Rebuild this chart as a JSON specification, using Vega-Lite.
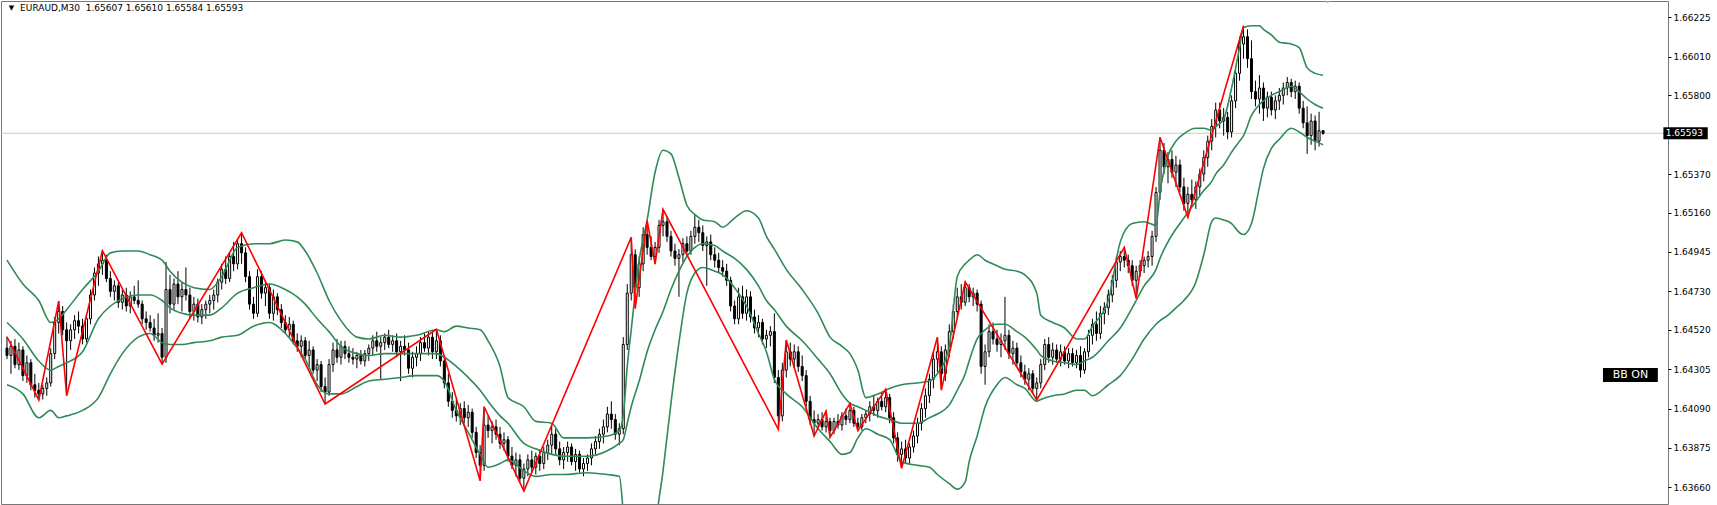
{
"$schema":"https://vega.github.io/schema/vega-lite/v6.json",
"width":1667,"height":503,
"autosize":{"type":"none"},
"padding":{"left":1,"top":1,"right":49,"bottom":1},
"background":"#ffffff",
"config":{"view":{"stroke":"#777777","strokeWidth":1},"font":"DejaVu Sans"},
"datasets":{
"bars":[
{"i":0,"o":1.6442,"h":1.64482,"l":1.6436,"c":1.6438},
{"i":1,"o":1.6438,"h":1.6446,"l":1.6428,"c":1.6443},
{"i":2,"o":1.6443,"h":1.6447,"l":1.6431,"c":1.6433},
{"i":3,"o":1.6433,"h":1.6445,"l":1.6430,"c":1.6441},
{"i":4,"o":1.6441,"h":1.6443,"l":1.6424,"c":1.6427},
{"i":5,"o":1.6427,"h":1.6438,"l":1.6423,"c":1.6434},
{"i":6,"o":1.6434,"h":1.6436,"l":1.6419,"c":1.6422},
{"i":7,"o":1.6422,"h":1.6428,"l":1.6415,"c":1.6419},
{"i":8,"o":1.6419,"h":1.6423,"l":1.64137,"c":1.6417},
{"i":9,"o":1.6417,"h":1.6422,"l":1.6414,"c":1.6420},
{"i":10,"o":1.6420,"h":1.6426,"l":1.6416,"c":1.6423},
{"i":11,"o":1.6423,"h":1.6442,"l":1.6421,"c":1.6439},
{"i":12,"o":1.6439,"h":1.6459,"l":1.6436,"c":1.6456},
{"i":13,"o":1.6456,"h":1.64677,"l":1.6450,"c":1.6462},
{"i":14,"o":1.6462,"h":1.6465,"l":1.6449,"c":1.6452},
{"i":15,"o":1.6452,"h":1.6456,"l":1.6416,"c":1.6446},
{"i":16,"o":1.6446,"h":1.6455,"l":1.6441,"c":1.6452},
{"i":17,"o":1.6452,"h":1.6460,"l":1.6447,"c":1.6457},
{"i":18,"o":1.6457,"h":1.6462,"l":1.6450,"c":1.6454},
{"i":19,"o":1.6454,"h":1.6458,"l":1.6444,"c":1.6447},
{"i":20,"o":1.6447,"h":1.6460,"l":1.6445,"c":1.6458},
{"i":21,"o":1.6458,"h":1.6474,"l":1.6455,"c":1.6471},
{"i":22,"o":1.6471,"h":1.6486,"l":1.6468,"c":1.6483},
{"i":23,"o":1.6483,"h":1.6492,"l":1.6476,"c":1.6488},
{"i":24,"o":1.6488,"h":1.64952,"l":1.6482,"c":1.6490},
{"i":25,"o":1.6490,"h":1.6493,"l":1.6478,"c":1.6480},
{"i":26,"o":1.6480,"h":1.6484,"l":1.6470,"c":1.6473},
{"i":27,"o":1.6473,"h":1.6479,"l":1.6468,"c":1.6476},
{"i":28,"o":1.6476,"h":1.6478,"l":1.6464,"c":1.6467},
{"i":29,"o":1.6467,"h":1.6474,"l":1.6463,"c":1.6471},
{"i":30,"o":1.6471,"h":1.6475,"l":1.6462,"c":1.6465},
{"i":31,"o":1.6465,"h":1.6473,"l":1.6461,"c":1.6470},
{"i":32,"o":1.6470,"h":1.6476,"l":1.6466,"c":1.6468},
{"i":33,"o":1.6468,"h":1.6479,"l":1.6464,"c":1.6466},
{"i":34,"o":1.6466,"h":1.6468,"l":1.6455,"c":1.6458},
{"i":35,"o":1.6458,"h":1.6462,"l":1.6452,"c":1.6456},
{"i":36,"o":1.6456,"h":1.6460,"l":1.6451,"c":1.6453},
{"i":37,"o":1.6453,"h":1.6458,"l":1.6446,"c":1.6449},
{"i":38,"o":1.6449,"h":1.6461,"l":1.6445,"c":1.6450},
{"i":39,"o":1.6450,"h":1.6453,"l":1.64333,"c":1.6437},
{"i":40,"o":1.6437,"h":1.6489,"l":1.6434,"c":1.6474},
{"i":41,"o":1.6474,"h":1.6482,"l":1.6461,"c":1.6466},
{"i":42,"o":1.6466,"h":1.6480,"l":1.6463,"c":1.6477},
{"i":43,"o":1.6477,"h":1.6484,"l":1.6466,"c":1.6470},
{"i":44,"o":1.6470,"h":1.6478,"l":1.6462,"c":1.6474},
{"i":45,"o":1.6474,"h":1.6486,"l":1.6468,"c":1.6471},
{"i":46,"o":1.6471,"h":1.6475,"l":1.6458,"c":1.6462},
{"i":47,"o":1.6462,"h":1.6470,"l":1.6457,"c":1.6466},
{"i":48,"o":1.6466,"h":1.6469,"l":1.6456,"c":1.6459},
{"i":49,"o":1.6459,"h":1.6466,"l":1.6455,"c":1.6463},
{"i":50,"o":1.6463,"h":1.6468,"l":1.6458,"c":1.6466},
{"i":51,"o":1.6466,"h":1.6471,"l":1.6461,"c":1.6468},
{"i":52,"o":1.6468,"h":1.6474,"l":1.6463,"c":1.6471},
{"i":53,"o":1.6471,"h":1.6480,"l":1.6467,"c":1.6478},
{"i":54,"o":1.6478,"h":1.6488,"l":1.6474,"c":1.6485},
{"i":55,"o":1.6485,"h":1.6492,"l":1.6477,"c":1.6480},
{"i":56,"o":1.6480,"h":1.6494,"l":1.6478,"c":1.6492},
{"i":57,"o":1.6492,"h":1.6500,"l":1.6484,"c":1.6488},
{"i":58,"o":1.6488,"h":1.6502,"l":1.6485,"c":1.6499},
{"i":59,"o":1.6499,"h":1.65050,"l":1.6488,"c":1.6494},
{"i":60,"o":1.6494,"h":1.6497,"l":1.6478,"c":1.6481},
{"i":61,"o":1.6481,"h":1.6484,"l":1.6463,"c":1.6466},
{"i":62,"o":1.6466,"h":1.6470,"l":1.6458,"c":1.6461},
{"i":63,"o":1.6461,"h":1.6485,"l":1.6459,"c":1.6481},
{"i":64,"o":1.6481,"h":1.6484,"l":1.6469,"c":1.6472},
{"i":65,"o":1.6472,"h":1.6478,"l":1.6465,"c":1.6475},
{"i":66,"o":1.6475,"h":1.6477,"l":1.6458,"c":1.6461},
{"i":67,"o":1.6461,"h":1.6474,"l":1.6457,"c":1.6470},
{"i":68,"o":1.6470,"h":1.6472,"l":1.6460,"c":1.6463},
{"i":69,"o":1.6463,"h":1.6466,"l":1.6453,"c":1.6456},
{"i":70,"o":1.6456,"h":1.6460,"l":1.6450,"c":1.6452},
{"i":71,"o":1.6452,"h":1.6459,"l":1.6448,"c":1.6455},
{"i":72,"o":1.6455,"h":1.6457,"l":1.6444,"c":1.6446},
{"i":73,"o":1.6446,"h":1.6450,"l":1.6440,"c":1.6443},
{"i":74,"o":1.6443,"h":1.6449,"l":1.6437,"c":1.6446},
{"i":75,"o":1.6446,"h":1.6448,"l":1.6436,"c":1.6438},
{"i":76,"o":1.6438,"h":1.6446,"l":1.6432,"c":1.6441},
{"i":77,"o":1.6441,"h":1.6443,"l":1.6428,"c":1.6430},
{"i":78,"o":1.6430,"h":1.6436,"l":1.6424,"c":1.6433},
{"i":79,"o":1.6433,"h":1.6435,"l":1.6418,"c":1.6421},
{"i":80,"o":1.6421,"h":1.6426,"l":1.64115,"c":1.6418},
{"i":81,"o":1.6418,"h":1.6436,"l":1.6416,"c":1.6433},
{"i":82,"o":1.6433,"h":1.6445,"l":1.6429,"c":1.6441},
{"i":83,"o":1.6441,"h":1.6447,"l":1.6434,"c":1.6437},
{"i":84,"o":1.6437,"h":1.6446,"l":1.6433,"c":1.6443},
{"i":85,"o":1.6443,"h":1.6446,"l":1.6436,"c":1.6439},
{"i":86,"o":1.6439,"h":1.6443,"l":1.6434,"c":1.6437},
{"i":87,"o":1.6437,"h":1.6442,"l":1.6433,"c":1.6436},
{"i":88,"o":1.6436,"h":1.6440,"l":1.6431,"c":1.6438},
{"i":89,"o":1.6438,"h":1.6441,"l":1.6433,"c":1.6435},
{"i":90,"o":1.6435,"h":1.6441,"l":1.6432,"c":1.6439},
{"i":91,"o":1.6439,"h":1.6444,"l":1.6435,"c":1.6442},
{"i":92,"o":1.6442,"h":1.6449,"l":1.6438,"c":1.6446},
{"i":93,"o":1.6446,"h":1.6451,"l":1.6440,"c":1.6443},
{"i":94,"o":1.6443,"h":1.6448,"l":1.6425,"c":1.6445},
{"i":95,"o":1.6445,"h":1.6450,"l":1.6441,"c":1.6448},
{"i":96,"o":1.6448,"h":1.6452,"l":1.6442,"c":1.6444},
{"i":97,"o":1.6444,"h":1.6449,"l":1.6440,"c":1.6446},
{"i":98,"o":1.6446,"h":1.6450,"l":1.6437,"c":1.6440},
{"i":99,"o":1.6440,"h":1.6446,"l":1.6424,"c":1.6443},
{"i":100,"o":1.6443,"h":1.6449,"l":1.6438,"c":1.6441},
{"i":101,"o":1.6441,"h":1.6445,"l":1.6428,"c":1.6431},
{"i":102,"o":1.6431,"h":1.6440,"l":1.6426,"c":1.6437},
{"i":103,"o":1.6437,"h":1.6443,"l":1.6432,"c":1.6439},
{"i":104,"o":1.6439,"h":1.6448,"l":1.6435,"c":1.6445},
{"i":105,"o":1.6445,"h":1.6450,"l":1.6440,"c":1.6442},
{"i":106,"o":1.6442,"h":1.6451,"l":1.6438,"c":1.6448},
{"i":107,"o":1.6448,"h":1.6451,"l":1.6436,"c":1.6440},
{"i":108,"o":1.6440,"h":1.64523,"l":1.6436,"c":1.6446},
{"i":109,"o":1.6446,"h":1.6449,"l":1.6432,"c":1.6435},
{"i":110,"o":1.6435,"h":1.6438,"l":1.6420,"c":1.6423},
{"i":111,"o":1.6423,"h":1.6428,"l":1.6410,"c":1.6413},
{"i":112,"o":1.6413,"h":1.6418,"l":1.6404,"c":1.6408},
{"i":113,"o":1.6408,"h":1.6414,"l":1.6402,"c":1.6405},
{"i":114,"o":1.6405,"h":1.6412,"l":1.6400,"c":1.6409},
{"i":115,"o":1.6409,"h":1.6413,"l":1.6401,"c":1.6404},
{"i":116,"o":1.6404,"h":1.6411,"l":1.6399,"c":1.6407},
{"i":117,"o":1.6407,"h":1.6409,"l":1.6393,"c":1.6396},
{"i":118,"o":1.6396,"h":1.6399,"l":1.6382,"c":1.6385},
{"i":119,"o":1.6385,"h":1.6389,"l":1.63696,"c":1.6378},
{"i":120,"o":1.6378,"h":1.64100,"l":1.6375,"c":1.6400},
{"i":121,"o":1.6400,"h":1.6405,"l":1.6393,"c":1.6397},
{"i":122,"o":1.6397,"h":1.6402,"l":1.6390,"c":1.6399},
{"i":123,"o":1.6399,"h":1.6403,"l":1.6392,"c":1.6395},
{"i":124,"o":1.6395,"h":1.6399,"l":1.6387,"c":1.6390},
{"i":125,"o":1.6390,"h":1.6396,"l":1.6386,"c":1.6392},
{"i":126,"o":1.6392,"h":1.6394,"l":1.6380,"c":1.6383},
{"i":127,"o":1.6383,"h":1.6388,"l":1.6376,"c":1.6378},
{"i":128,"o":1.6378,"h":1.6385,"l":1.6372,"c":1.6381},
{"i":129,"o":1.6381,"h":1.6384,"l":1.6369,"c":1.6371},
{"i":130,"o":1.6371,"h":1.6379,"l":1.63640,"c":1.6376},
{"i":131,"o":1.6376,"h":1.6384,"l":1.6372,"c":1.6381},
{"i":132,"o":1.6381,"h":1.6386,"l":1.6374,"c":1.6377},
{"i":133,"o":1.6377,"h":1.6385,"l":1.6373,"c":1.6383},
{"i":134,"o":1.6383,"h":1.6386,"l":1.6375,"c":1.6379},
{"i":135,"o":1.6379,"h":1.6388,"l":1.6376,"c":1.6385},
{"i":136,"o":1.6385,"h":1.6392,"l":1.6381,"c":1.6389},
{"i":137,"o":1.6389,"h":1.6400,"l":1.6384,"c":1.6395},
{"i":138,"o":1.6395,"h":1.6398,"l":1.6384,"c":1.6387},
{"i":139,"o":1.6387,"h":1.6391,"l":1.6378,"c":1.6381},
{"i":140,"o":1.6381,"h":1.6388,"l":1.6376,"c":1.6385},
{"i":141,"o":1.6385,"h":1.6391,"l":1.6380,"c":1.6388},
{"i":142,"o":1.6388,"h":1.6390,"l":1.6378,"c":1.6380},
{"i":143,"o":1.6380,"h":1.6387,"l":1.6375,"c":1.6384},
{"i":144,"o":1.6384,"h":1.6386,"l":1.6374,"c":1.6376},
{"i":145,"o":1.6376,"h":1.6382,"l":1.6372,"c":1.6379},
{"i":146,"o":1.6379,"h":1.6384,"l":1.6375,"c":1.6382},
{"i":147,"o":1.6382,"h":1.6390,"l":1.6378,"c":1.6387},
{"i":148,"o":1.6387,"h":1.6394,"l":1.6384,"c":1.6391},
{"i":149,"o":1.6391,"h":1.6398,"l":1.6387,"c":1.6395},
{"i":150,"o":1.6395,"h":1.6403,"l":1.6390,"c":1.6399},
{"i":151,"o":1.6399,"h":1.6410,"l":1.6396,"c":1.6406},
{"i":152,"o":1.6406,"h":1.6413,"l":1.6398,"c":1.6403},
{"i":153,"o":1.6403,"h":1.6406,"l":1.6392,"c":1.6395},
{"i":154,"o":1.6395,"h":1.6401,"l":1.6389,"c":1.6398},
{"i":155,"o":1.6398,"h":1.6448,"l":1.6395,"c":1.6444},
{"i":156,"o":1.6444,"h":1.6477,"l":1.6441,"c":1.6472},
{"i":157,"o":1.6472,"h":1.65025,"l":1.6468,"c":1.6493},
{"i":158,"o":1.6493,"h":1.6496,"l":1.64637,"c":1.6475},
{"i":159,"o":1.6475,"h":1.6492,"l":1.6470,"c":1.6488},
{"i":160,"o":1.6488,"h":1.6508,"l":1.6484,"c":1.6504},
{"i":161,"o":1.6504,"h":1.65116,"l":1.6493,"c":1.6497},
{"i":162,"o":1.6497,"h":1.6503,"l":1.6490,"c":1.6492},
{"i":163,"o":1.6492,"h":1.6500,"l":1.64879,"c":1.6497},
{"i":164,"o":1.6497,"h":1.6512,"l":1.6494,"c":1.6509},
{"i":165,"o":1.6509,"h":1.65178,"l":1.6503,"c":1.6511},
{"i":166,"o":1.6511,"h":1.6514,"l":1.6500,"c":1.6503},
{"i":167,"o":1.6503,"h":1.6506,"l":1.6492,"c":1.6495},
{"i":168,"o":1.6495,"h":1.6499,"l":1.6487,"c":1.6491},
{"i":169,"o":1.6491,"h":1.6496,"l":1.6470,"c":1.6493},
{"i":170,"o":1.6493,"h":1.6502,"l":1.6489,"c":1.6499},
{"i":171,"o":1.6499,"h":1.6503,"l":1.6492,"c":1.6495},
{"i":172,"o":1.6495,"h":1.6506,"l":1.6493,"c":1.6503},
{"i":173,"o":1.6503,"h":1.6515,"l":1.6499,"c":1.6508},
{"i":174,"o":1.6508,"h":1.6512,"l":1.6500,"c":1.6505},
{"i":175,"o":1.6505,"h":1.6509,"l":1.6495,"c":1.6498},
{"i":176,"o":1.6498,"h":1.6503,"l":1.6476,"c":1.6500},
{"i":177,"o":1.6500,"h":1.6504,"l":1.6490,"c":1.6493},
{"i":178,"o":1.6493,"h":1.6497,"l":1.6486,"c":1.6490},
{"i":179,"o":1.6490,"h":1.6494,"l":1.6483,"c":1.6486},
{"i":180,"o":1.6486,"h":1.6490,"l":1.6481,"c":1.6484},
{"i":181,"o":1.6484,"h":1.6488,"l":1.6476,"c":1.6479},
{"i":182,"o":1.6479,"h":1.6481,"l":1.6462,"c":1.6465},
{"i":183,"o":1.6465,"h":1.6468,"l":1.6455,"c":1.6458},
{"i":184,"o":1.6458,"h":1.6475,"l":1.6455,"c":1.6470},
{"i":185,"o":1.6470,"h":1.6476,"l":1.6458,"c":1.6461},
{"i":186,"o":1.6461,"h":1.6474,"l":1.6457,"c":1.6470},
{"i":187,"o":1.6470,"h":1.6473,"l":1.6456,"c":1.6459},
{"i":188,"o":1.6459,"h":1.6463,"l":1.6450,"c":1.6453},
{"i":189,"o":1.6453,"h":1.6460,"l":1.6448,"c":1.6456},
{"i":190,"o":1.6456,"h":1.6458,"l":1.6444,"c":1.6447},
{"i":191,"o":1.6447,"h":1.6452,"l":1.6442,"c":1.6449},
{"i":192,"o":1.6449,"h":1.6454,"l":1.6443,"c":1.6451},
{"i":193,"o":1.6451,"h":1.6461,"l":1.6423,"c":1.6426},
{"i":194,"o":1.6426,"h":1.6430,"l":1.63977,"c":1.6405},
{"i":195,"o":1.6405,"h":1.6434,"l":1.6402,"c":1.6430},
{"i":196,"o":1.6430,"h":1.64464,"l":1.6426,"c":1.6440},
{"i":197,"o":1.6440,"h":1.6445,"l":1.6432,"c":1.6436},
{"i":198,"o":1.6436,"h":1.6444,"l":1.6431,"c":1.6440},
{"i":199,"o":1.6440,"h":1.6443,"l":1.6429,"c":1.6432},
{"i":200,"o":1.6432,"h":1.6438,"l":1.6424,"c":1.6427},
{"i":201,"o":1.6427,"h":1.6430,"l":1.6410,"c":1.6413},
{"i":202,"o":1.6413,"h":1.6416,"l":1.6400,"c":1.6403},
{"i":203,"o":1.6403,"h":1.6408,"l":1.63940,"c":1.6401},
{"i":204,"o":1.6401,"h":1.6406,"l":1.6398,"c":1.6403},
{"i":205,"o":1.6403,"h":1.6407,"l":1.6397,"c":1.6399},
{"i":206,"o":1.6399,"h":1.64076,"l":1.6396,"c":1.6402},
{"i":207,"o":1.6402,"h":1.6404,"l":1.63933,"c":1.6397},
{"i":208,"o":1.6397,"h":1.6404,"l":1.6395,"c":1.6402},
{"i":209,"o":1.6402,"h":1.6406,"l":1.6398,"c":1.6400},
{"i":210,"o":1.6400,"h":1.6407,"l":1.6397,"c":1.6405},
{"i":211,"o":1.6405,"h":1.6409,"l":1.6400,"c":1.6403},
{"i":212,"o":1.6403,"h":1.64118,"l":1.6401,"c":1.6408},
{"i":213,"o":1.6408,"h":1.6410,"l":1.6399,"c":1.6401},
{"i":214,"o":1.6401,"h":1.6404,"l":1.63969,"c":1.6399},
{"i":215,"o":1.6399,"h":1.6406,"l":1.6397,"c":1.6404},
{"i":216,"o":1.6404,"h":1.6408,"l":1.6401,"c":1.6406},
{"i":217,"o":1.6406,"h":1.6413,"l":1.6402,"c":1.6410},
{"i":218,"o":1.6410,"h":1.6416,"l":1.6405,"c":1.6408},
{"i":219,"o":1.6408,"h":1.6415,"l":1.6404,"c":1.6413},
{"i":220,"o":1.6413,"h":1.6418,"l":1.6408,"c":1.6410},
{"i":221,"o":1.6410,"h":1.64195,"l":1.6407,"c":1.6415},
{"i":222,"o":1.6415,"h":1.6417,"l":1.6401,"c":1.6404},
{"i":223,"o":1.6404,"h":1.6407,"l":1.6390,"c":1.6393},
{"i":224,"o":1.6393,"h":1.6396,"l":1.6380,"c":1.6384},
{"i":225,"o":1.6384,"h":1.6391,"l":1.63764,"c":1.6387},
{"i":226,"o":1.6387,"h":1.6392,"l":1.6379,"c":1.6382},
{"i":227,"o":1.6382,"h":1.6390,"l":1.6379,"c":1.6388},
{"i":228,"o":1.6388,"h":1.6397,"l":1.6385,"c":1.6394},
{"i":229,"o":1.6394,"h":1.6404,"l":1.6390,"c":1.6401},
{"i":230,"o":1.6401,"h":1.6412,"l":1.6397,"c":1.6409},
{"i":231,"o":1.6409,"h":1.6420,"l":1.6404,"c":1.6416},
{"i":232,"o":1.6416,"h":1.6428,"l":1.6412,"c":1.6425},
{"i":233,"o":1.6425,"h":1.6440,"l":1.6420,"c":1.6436},
{"i":234,"o":1.6436,"h":1.64479,"l":1.6429,"c":1.6440},
{"i":235,"o":1.6440,"h":1.6443,"l":1.64191,"c":1.6428},
{"i":236,"o":1.6428,"h":1.6444,"l":1.6424,"c":1.6441},
{"i":237,"o":1.6441,"h":1.6455,"l":1.6437,"c":1.6451},
{"i":238,"o":1.6451,"h":1.6466,"l":1.6447,"c":1.6462},
{"i":239,"o":1.6462,"h":1.6475,"l":1.6458,"c":1.6470},
{"i":240,"o":1.6470,"h":1.6477,"l":1.6463,"c":1.6467},
{"i":241,"o":1.6467,"h":1.64782,"l":1.6465,"c":1.6475},
{"i":242,"o":1.6475,"h":1.6477,"l":1.6467,"c":1.6470},
{"i":243,"o":1.6470,"h":1.6475,"l":1.6465,"c":1.6472},
{"i":244,"o":1.6472,"h":1.6474,"l":1.6462,"c":1.6466},
{"i":245,"o":1.6466,"h":1.6468,"l":1.6428,"c":1.6432},
{"i":246,"o":1.6432,"h":1.6444,"l":1.6422,"c":1.6440},
{"i":247,"o":1.6440,"h":1.6455,"l":1.6437,"c":1.6451},
{"i":248,"o":1.6451,"h":1.6456,"l":1.6444,"c":1.6447},
{"i":249,"o":1.6447,"h":1.6452,"l":1.6440,"c":1.6444},
{"i":250,"o":1.6444,"h":1.6450,"l":1.6437,"c":1.6446},
{"i":251,"o":1.6446,"h":1.6470,"l":1.6441,"c":1.6449},
{"i":252,"o":1.6449,"h":1.6452,"l":1.6436,"c":1.6439},
{"i":253,"o":1.6439,"h":1.6446,"l":1.6433,"c":1.6442},
{"i":254,"o":1.6442,"h":1.6445,"l":1.6432,"c":1.6434},
{"i":255,"o":1.6434,"h":1.6438,"l":1.6426,"c":1.6429},
{"i":256,"o":1.6429,"h":1.6433,"l":1.6422,"c":1.6425},
{"i":257,"o":1.6425,"h":1.6431,"l":1.6419,"c":1.6428},
{"i":258,"o":1.6428,"h":1.6430,"l":1.6417,"c":1.6420},
{"i":259,"o":1.6420,"h":1.6426,"l":1.64137,"c":1.6423},
{"i":260,"o":1.6423,"h":1.6436,"l":1.6420,"c":1.6433},
{"i":261,"o":1.6433,"h":1.6447,"l":1.6430,"c":1.6444},
{"i":262,"o":1.6444,"h":1.6448,"l":1.6434,"c":1.6437},
{"i":263,"o":1.6437,"h":1.6445,"l":1.6433,"c":1.6441},
{"i":264,"o":1.6441,"h":1.6444,"l":1.6434,"c":1.6436},
{"i":265,"o":1.6436,"h":1.6444,"l":1.6432,"c":1.6440},
{"i":266,"o":1.6440,"h":1.6443,"l":1.6433,"c":1.6435},
{"i":267,"o":1.6435,"h":1.6442,"l":1.6431,"c":1.6439},
{"i":268,"o":1.6439,"h":1.6442,"l":1.6432,"c":1.6434},
{"i":269,"o":1.6434,"h":1.6441,"l":1.6431,"c":1.6438},
{"i":270,"o":1.6438,"h":1.6443,"l":1.6426,"c":1.6430},
{"i":271,"o":1.6430,"h":1.6442,"l":1.6428,"c":1.6440},
{"i":272,"o":1.6440,"h":1.6452,"l":1.6437,"c":1.6449},
{"i":273,"o":1.6449,"h":1.6458,"l":1.6444,"c":1.6455},
{"i":274,"o":1.6455,"h":1.6462,"l":1.6446,"c":1.6450},
{"i":275,"o":1.6450,"h":1.6465,"l":1.6447,"c":1.6461},
{"i":276,"o":1.6461,"h":1.6467,"l":1.6455,"c":1.6464},
{"i":277,"o":1.6464,"h":1.6474,"l":1.6460,"c":1.6471},
{"i":278,"o":1.6471,"h":1.6482,"l":1.6467,"c":1.6479},
{"i":279,"o":1.6479,"h":1.6492,"l":1.6475,"c":1.6489},
{"i":280,"o":1.6489,"h":1.6495,"l":1.6484,"c":1.6492},
{"i":281,"o":1.6492,"h":1.64970,"l":1.6486,"c":1.6490},
{"i":282,"o":1.6490,"h":1.6493,"l":1.6483,"c":1.6487},
{"i":283,"o":1.6487,"h":1.6490,"l":1.6476,"c":1.6479},
{"i":284,"o":1.6479,"h":1.6487,"l":1.64692,"c":1.6484},
{"i":285,"o":1.6484,"h":1.6490,"l":1.6481,"c":1.6487},
{"i":286,"o":1.6487,"h":1.6492,"l":1.6483,"c":1.6490},
{"i":287,"o":1.6490,"h":1.6495,"l":1.6486,"c":1.6492},
{"i":288,"o":1.6492,"h":1.6506,"l":1.6487,"c":1.6503},
{"i":289,"o":1.6503,"h":1.6530,"l":1.6500,"c":1.6527},
{"i":290,"o":1.6527,"h":1.65571,"l":1.6523,"c":1.6550},
{"i":291,"o":1.6550,"h":1.6554,"l":1.6537,"c":1.6541},
{"i":292,"o":1.6541,"h":1.6549,"l":1.6532,"c":1.6545},
{"i":293,"o":1.6545,"h":1.6550,"l":1.6535,"c":1.6538},
{"i":294,"o":1.6538,"h":1.6547,"l":1.6530,"c":1.6542},
{"i":295,"o":1.6542,"h":1.6545,"l":1.6527,"c":1.6530},
{"i":296,"o":1.6530,"h":1.6535,"l":1.6517,"c":1.6521},
{"i":297,"o":1.6521,"h":1.6530,"l":1.65134,"c":1.6526},
{"i":298,"o":1.6526,"h":1.6534,"l":1.6520,"c":1.6523},
{"i":299,"o":1.6523,"h":1.6533,"l":1.6518,"c":1.6530},
{"i":300,"o":1.6530,"h":1.6540,"l":1.6525,"c":1.6537},
{"i":301,"o":1.6537,"h":1.6550,"l":1.6533,"c":1.6546},
{"i":302,"o":1.6546,"h":1.6558,"l":1.6541,"c":1.6555},
{"i":303,"o":1.6555,"h":1.6567,"l":1.6550,"c":1.6563},
{"i":304,"o":1.6563,"h":1.6576,"l":1.6557,"c":1.6572},
{"i":305,"o":1.6572,"h":1.6576,"l":1.6562,"c":1.6566},
{"i":306,"o":1.6566,"h":1.6573,"l":1.6558,"c":1.6568},
{"i":307,"o":1.6568,"h":1.6571,"l":1.6556,"c":1.6560},
{"i":308,"o":1.6560,"h":1.6580,"l":1.6557,"c":1.6577},
{"i":309,"o":1.6577,"h":1.6596,"l":1.6573,"c":1.6592},
{"i":310,"o":1.6592,"h":1.6612,"l":1.6588,"c":1.6608},
{"i":311,"o":1.6608,"h":1.66180,"l":1.6600,"c":1.6612},
{"i":312,"o":1.6612,"h":1.6616,"l":1.6595,"c":1.6600},
{"i":313,"o":1.6600,"h":1.6610,"l":1.6578,"c":1.6582},
{"i":314,"o":1.6582,"h":1.6588,"l":1.6574,"c":1.6578},
{"i":315,"o":1.6578,"h":1.6591,"l":1.6570,"c":1.6584},
{"i":316,"o":1.6584,"h":1.6587,"l":1.6566,"c":1.6573},
{"i":317,"o":1.6573,"h":1.6582,"l":1.6568,"c":1.6579},
{"i":318,"o":1.6579,"h":1.6582,"l":1.6569,"c":1.6572},
{"i":319,"o":1.6572,"h":1.6580,"l":1.6567,"c":1.6577},
{"i":320,"o":1.6577,"h":1.6584,"l":1.6572,"c":1.6580},
{"i":321,"o":1.6580,"h":1.6587,"l":1.6575,"c":1.6584},
{"i":322,"o":1.6584,"h":1.6590,"l":1.6580,"c":1.6587},
{"i":323,"o":1.6587,"h":1.6589,"l":1.6579,"c":1.6582},
{"i":324,"o":1.6582,"h":1.6588,"l":1.6578,"c":1.6585},
{"i":325,"o":1.6585,"h":1.6587,"l":1.6570,"c":1.6573},
{"i":326,"o":1.6573,"h":1.6577,"l":1.6562,"c":1.6565},
{"i":327,"o":1.6565,"h":1.6574,"l":1.6548,"c":1.6558},
{"i":328,"o":1.6558,"h":1.6570,"l":1.6553,"c":1.6566},
{"i":329,"o":1.6566,"h":1.6569,"l":1.6550,"c":1.6555},
{"i":330,"o":1.6555,"h":1.6571,"l":1.6552,"c":1.65607},
{"i":331,"o":1.65607,"h":1.65610,"l":1.65584,"c":1.65593}
],
"bb":[
{"i":0,"u":1.6490,"m":1.6456,"lo":1.6422},
{"i":4,"u":1.6477,"m":1.6447,"lo":1.6417},
{"i":8,"u":1.6468,"m":1.6435,"lo":1.6404},
{"i":11,"u":1.6456,"m":1.6430,"lo":1.6408},
{"i":13,"u":1.6458,"m":1.6432,"lo":1.6404},
{"i":15,"u":1.6463,"m":1.6434,"lo":1.6405},
{"i":19,"u":1.6474,"m":1.6440,"lo":1.6408},
{"i":23,"u":1.6484,"m":1.6458,"lo":1.6415},
{"i":26,"u":1.6494,"m":1.6465,"lo":1.6428},
{"i":29,"u":1.6495,"m":1.6469,"lo":1.6439},
{"i":33,"u":1.6495,"m":1.6471,"lo":1.6448},
{"i":36,"u":1.6493,"m":1.6471,"lo":1.6450},
{"i":39,"u":1.6490,"m":1.6468,"lo":1.6445},
{"i":41,"u":1.6484,"m":1.6464,"lo":1.6444},
{"i":44,"u":1.6478,"m":1.6461,"lo":1.6444},
{"i":47,"u":1.6475,"m":1.6460,"lo":1.6445},
{"i":51,"u":1.6474,"m":1.6460,"lo":1.6446},
{"i":54,"u":1.6481,"m":1.6464,"lo":1.6448},
{"i":58,"u":1.6497,"m":1.6472,"lo":1.6449},
{"i":62,"u":1.6499,"m":1.6475,"lo":1.6454},
{"i":66,"u":1.6499,"m":1.6477,"lo":1.6456},
{"i":70,"u":1.6501,"m":1.6474,"lo":1.6450},
{"i":73,"u":1.6500,"m":1.6470,"lo":1.6442},
{"i":75,"u":1.6495,"m":1.6466,"lo":1.6436},
{"i":78,"u":1.6483,"m":1.6458,"lo":1.6422},
{"i":81,"u":1.6468,"m":1.6451,"lo":1.6417},
{"i":84,"u":1.6457,"m":1.6443,"lo":1.6417},
{"i":88,"u":1.6448,"m":1.6439,"lo":1.6421},
{"i":91,"u":1.6447,"m":1.6438,"lo":1.6424},
{"i":95,"u":1.6449,"m":1.6439,"lo":1.6425},
{"i":99,"u":1.6448,"m":1.6439,"lo":1.6426},
{"i":103,"u":1.6449,"m":1.6439,"lo":1.6427},
{"i":108,"u":1.6452,"m":1.6439,"lo":1.6427},
{"i":110,"u":1.6451,"m":1.6437,"lo":1.6424},
{"i":113,"u":1.6454,"m":1.6432,"lo":1.6408},
{"i":116,"u":1.6453,"m":1.6426,"lo":1.6396},
{"i":119,"u":1.6452,"m":1.6419,"lo":1.6384},
{"i":121,"u":1.6446,"m":1.6413,"lo":1.6377},
{"i":124,"u":1.6432,"m":1.6405,"lo":1.6379},
{"i":126,"u":1.6415,"m":1.6401,"lo":1.6381},
{"i":130,"u":1.6410,"m":1.6390,"lo":1.6375},
{"i":133,"u":1.6402,"m":1.6387,"lo":1.6372},
{"i":137,"u":1.6401,"m":1.6384,"lo":1.6373},
{"i":140,"u":1.6393,"m":1.6383,"lo":1.6373},
{"i":146,"u":1.6393,"m":1.6383,"lo":1.6374},
{"i":151,"u":1.6394,"m":1.6386,"lo":1.6373},
{"i":154,"u":1.6397,"m":1.6390,"lo":1.6372},
{"i":155,"u":1.6405,"m":1.6392,"lo":1.6352},
{"i":156,"u":1.6432,"m":1.6401,"lo":1.6320},
{"i":157,"u":1.6452,"m":1.6410,"lo":1.6295},
{"i":159,"u":1.6490,"m":1.6424,"lo":1.6270},
{"i":161,"u":1.6512,"m":1.6440,"lo":1.6265},
{"i":163,"u":1.6538,"m":1.6452,"lo":1.6340},
{"i":165,"u":1.6550,"m":1.6462,"lo":1.6375},
{"i":167,"u":1.6548,"m":1.6474,"lo":1.6412},
{"i":169,"u":1.6535,"m":1.6484,"lo":1.6445},
{"i":171,"u":1.6520,"m":1.6492,"lo":1.6472},
{"i":173,"u":1.6515,"m":1.6497,"lo":1.6483},
{"i":175,"u":1.6512,"m":1.6499,"lo":1.6486},
{"i":178,"u":1.6511,"m":1.6498,"lo":1.6484},
{"i":180,"u":1.6508,"m":1.6495,"lo":1.6482},
{"i":183,"u":1.6513,"m":1.6491,"lo":1.6475},
{"i":186,"u":1.6517,"m":1.6485,"lo":1.6465},
{"i":189,"u":1.6513,"m":1.6476,"lo":1.6450},
{"i":191,"u":1.6503,"m":1.6468,"lo":1.6440},
{"i":193,"u":1.6496,"m":1.6463,"lo":1.6425},
{"i":196,"u":1.6485,"m":1.6454,"lo":1.6417},
{"i":200,"u":1.6474,"m":1.6446,"lo":1.6410},
{"i":204,"u":1.6461,"m":1.6436,"lo":1.6398},
{"i":207,"u":1.6448,"m":1.6428,"lo":1.6391},
{"i":210,"u":1.6443,"m":1.6417,"lo":1.6384},
{"i":212,"u":1.6439,"m":1.6412,"lo":1.6385},
{"i":214,"u":1.6430,"m":1.6410,"lo":1.6393},
{"i":216,"u":1.6415,"m":1.6408,"lo":1.6398},
{"i":219,"u":1.6417,"m":1.6405,"lo":1.6395},
{"i":222,"u":1.6420,"m":1.6403,"lo":1.6392},
{"i":225,"u":1.6422,"m":1.6401,"lo":1.6380},
{"i":229,"u":1.6423,"m":1.6401,"lo":1.6378},
{"i":232,"u":1.6424,"m":1.6404,"lo":1.6377},
{"i":234,"u":1.6428,"m":1.6406,"lo":1.6373},
{"i":237,"u":1.6443,"m":1.6411,"lo":1.6368},
{"i":239,"u":1.6481,"m":1.6419,"lo":1.6365},
{"i":241,"u":1.6488,"m":1.6428,"lo":1.6369},
{"i":242,"u":1.6490,"m":1.6435,"lo":1.6380},
{"i":244,"u":1.6493,"m":1.6447,"lo":1.6394},
{"i":246,"u":1.6490,"m":1.6452,"lo":1.6410},
{"i":249,"u":1.6487,"m":1.6455,"lo":1.6422},
{"i":251,"u":1.6485,"m":1.6455,"lo":1.6426},
{"i":254,"u":1.6484,"m":1.6451,"lo":1.6422},
{"i":256,"u":1.6482,"m":1.6448,"lo":1.6420},
{"i":259,"u":1.6472,"m":1.6441,"lo":1.6413},
{"i":260,"u":1.6460,"m":1.6438,"lo":1.6414},
{"i":263,"u":1.6456,"m":1.6435,"lo":1.6416},
{"i":266,"u":1.6453,"m":1.6434,"lo":1.6417},
{"i":269,"u":1.6447,"m":1.6433,"lo":1.6419},
{"i":271,"u":1.6447,"m":1.6435,"lo":1.6419},
{"i":273,"u":1.6454,"m":1.6437,"lo":1.6416},
{"i":277,"u":1.6468,"m":1.6446,"lo":1.6422},
{"i":280,"u":1.6500,"m":1.6453,"lo":1.6427},
{"i":283,"u":1.6510,"m":1.6464,"lo":1.6436},
{"i":286,"u":1.6511,"m":1.6476,"lo":1.6447},
{"i":289,"u":1.6509,"m":1.6485,"lo":1.6455},
{"i":290,"u":1.6527,"m":1.6491,"lo":1.6457},
{"i":292,"u":1.6547,"m":1.6500,"lo":1.6460},
{"i":294,"u":1.6555,"m":1.6507,"lo":1.6464},
{"i":296,"u":1.6559,"m":1.6513,"lo":1.6468},
{"i":299,"u":1.6562,"m":1.6522,"lo":1.6478},
{"i":301,"u":1.6562,"m":1.6528,"lo":1.6493},
{"i":303,"u":1.6561,"m":1.6533,"lo":1.6511},
{"i":304,"u":1.6563,"m":1.6537,"lo":1.6513},
{"i":306,"u":1.6567,"m":1.6542,"lo":1.6512},
{"i":308,"u":1.6584,"m":1.6549,"lo":1.6510},
{"i":310,"u":1.6606,"m":1.6555,"lo":1.6505},
{"i":311,"u":1.6617,"m":1.6558,"lo":1.6504},
{"i":313,"u":1.6618,"m":1.6569,"lo":1.6510},
{"i":315,"u":1.6618,"m":1.6575,"lo":1.6530},
{"i":316,"u":1.6616,"m":1.6577,"lo":1.6540},
{"i":318,"u":1.6613,"m":1.6580,"lo":1.6551},
{"i":320,"u":1.6609,"m":1.6582,"lo":1.6556},
{"i":323,"u":1.6608,"m":1.6585,"lo":1.6562},
{"i":325,"u":1.6606,"m":1.6582,"lo":1.6560},
{"i":327,"u":1.6595,"m":1.6578,"lo":1.6557},
{"i":329,"u":1.6592,"m":1.6575,"lo":1.6555},
{"i":331,"u":1.6591,"m":1.6573,"lo":1.6553}
],
"zz":[
{"i":0,"p":1.64482},{"i":8,"p":1.64137},{"i":13,"p":1.64677},{"i":15,"p":1.6416},{"i":24,"p":1.64952},
{"i":39,"p":1.64333},{"i":59,"p":1.6505},{"i":80,"p":1.64115},{"i":108,"p":1.64523},{"i":119,"p":1.63696},
{"i":120,"p":1.641},{"i":130,"p":1.6364},{"i":157,"p":1.65025},{"i":158,"p":1.64637},{"i":161,"p":1.65116},
{"i":163,"p":1.64879},{"i":165,"p":1.65178},{"i":194,"p":1.63977},{"i":196,"p":1.64464},{"i":203,"p":1.6394},
{"i":206,"p":1.64076},{"i":207,"p":1.63933},{"i":212,"p":1.64118},{"i":214,"p":1.63969},{"i":221,"p":1.64195},
{"i":225,"p":1.63764},{"i":234,"p":1.64479},{"i":235,"p":1.64191},{"i":241,"p":1.64782},{"i":259,"p":1.64137},
{"i":281,"p":1.6497},{"i":284,"p":1.64692},{"i":290,"p":1.65571},{"i":297,"p":1.65134},{"i":311,"p":1.6618}
],
"last":[{"p":1.65593}],
"bb_label":[{"t":"BB ON"}],
"header":[{"t":"EURAUD,M30\u00a0 1.65607 1.65610 1.65584 1.65593"}],
"arrow":[{"t":"▼"}]
},
"layer":[
{"data":{"name":"last"},"mark":{"type":"rule","color":"#c8c8c8","strokeWidth":1},
 "encoding":{"y":{"field":"p","type":"quantitative","scale":{"domain":[1.63569,1.66315],"zero":false,"nice":false},
   "axis":{"orient":"right","values":[1.66225,1.6601,1.658,1.6537,1.6516,1.64945,1.6473,1.6452,1.64305,1.6409,1.63875,1.6366],
     "format":".5f","labelFont":"DejaVu Sans","labelFontSize":9,"labelColor":"#000000","tickColor":"#000000","tickSize":3,
     "labelPadding":2,"domain":false,"grid":false,"title":null,"labelOverlap":false,"labelFlush":false,"labelBaseline":"middle"}}}},
{"data":{"name":"bars"},"mark":{"type":"rule","color":"#000000","strokeWidth":1,"clip":true},
 "encoding":{"x":{"field":"i","type":"quantitative","scale":{"domain":[-0.25,416.5],"nice":false,"zero":false},"axis":null},
   "y":{"field":"l","type":"quantitative"},"y2":{"field":"h"}}},
{"data":{"name":"bars"},"mark":{"type":"bar","width":2,"stroke":"#000000","strokeWidth":1,"clip":true},
 "encoding":{"x":{"field":"i","type":"quantitative"},
   "y":{"field":"o","type":"quantitative"},"y2":{"field":"c"},
   "fill":{"condition":{"test":"datum.c >= datum.o","value":"#ffffff"},"value":"#000000"}}},
{"data":{"name":"bb"},"mark":{"type":"line","color":"#2e8b57","strokeWidth":1.6,"interpolate":"monotone","clip":true},
 "encoding":{"x":{"field":"i","type":"quantitative"},"y":{"field":"u","type":"quantitative"}}},
{"data":{"name":"bb"},"mark":{"type":"line","color":"#2e8b57","strokeWidth":1.6,"interpolate":"monotone","clip":true},
 "encoding":{"x":{"field":"i","type":"quantitative"},"y":{"field":"m","type":"quantitative"}}},
{"data":{"name":"bb"},"mark":{"type":"line","color":"#2e8b57","strokeWidth":1.6,"interpolate":"monotone","clip":true},
 "encoding":{"x":{"field":"i","type":"quantitative"},"y":{"field":"lo","type":"quantitative"}}},
{"data":{"name":"zz"},"mark":{"type":"line","color":"#ff0000","strokeWidth":1.6,"clip":true},
 "encoding":{"x":{"field":"i","type":"quantitative"},"y":{"field":"p","type":"quantitative"}}},
{"data":{"name":"last"},"mark":{"type":"rect","color":"#000000"},
 "encoding":{"x":{"datum":416.6,"type":"quantitative"},"x2":{"datum":427.75},
   "y":{"datum":1.65626,"type":"quantitative"},"y2":{"datum":1.65560}}},
{"data":{"name":"last"},"mark":{"type":"text","color":"#ffffff","font":"DejaVu Sans","fontSize":9,"align":"left","baseline":"middle"},
 "encoding":{"x":{"datum":417.2,"type":"quantitative"},"y":{"field":"p","type":"quantitative"},
   "text":{"field":"p","type":"quantitative","format":".5f"}}},
{"data":{"name":"bb_label"},"mark":{"type":"rect","color":"#000000"},
 "encoding":{"x":{"datum":401.4,"type":"quantitative"},"x2":{"datum":415.2},
   "y":{"datum":1.64311,"type":"quantitative"},"y2":{"datum":1.64235}}},
{"data":{"name":"bb_label"},"mark":{"type":"text","color":"#ffffff","font":"DejaVu Sans","fontSize":11,"align":"center","baseline":"middle"},
 "encoding":{"x":{"datum":408.3,"type":"quantitative"},"y":{"datum":1.64271,"type":"quantitative"},"text":{"field":"t"}}},
{"data":{"name":"header"},"mark":{"type":"text","color":"#000000","font":"DejaVu Sans","fontSize":9,"align":"left","baseline":"middle"},
 "encoding":{"x":{"datum":3.3,"type":"quantitative"},"y":{"datum":1.66277,"type":"quantitative"},"text":{"field":"t"}}},
{"data":{"name":"arrow"},"mark":{"type":"text","color":"#000000","font":"DejaVu Sans","fontSize":7,"align":"center","baseline":"middle"},
 "encoding":{"x":{"datum":1.1,"type":"quantitative"},"y":{"datum":1.66277,"type":"quantitative"},"text":{"field":"t"}}},
{"data":{"name":"arrow"},"mark":{"type":"point","shape":"triangle-down","filled":true,"color":"#b0b0b0","size":55,"opacity":1,"clip":true},
 "encoding":{"x":{"datum":332.2,"type":"quantitative"},"y":{"datum":1.66318,"type":"quantitative"}}}
]
}
